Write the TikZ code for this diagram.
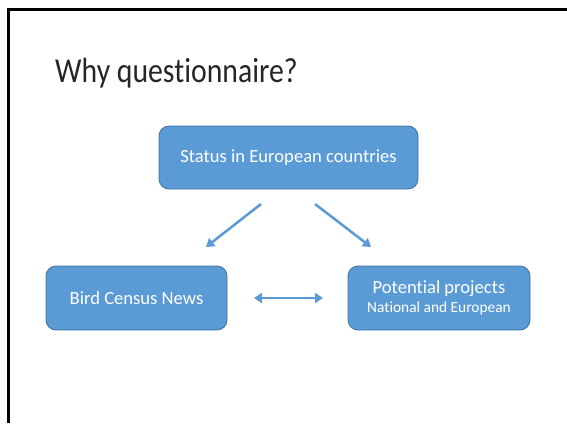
\documentclass[tikz,border=0pt]{standalone}
\usepackage{fontspec}
\setmainfont{Carlito}[Ligatures=NoCommon]
\newfontfamily\titlefont[FakeStretch=0.85,Ligatures=NoCommon]{Carlito}
\usetikzlibrary{arrows.meta}
\definecolor{boxblue}{HTML}{5B9BD5}
\definecolor{boxborder}{HTML}{41719C}
\tikzset{
  box/.style={draw=boxborder, fill=boxblue, rounded corners=10pt, text=white, line width=0.8pt, align=center, inner sep=0pt},
  arr/.style={draw=boxblue, line width=2.5pt, -{Triangle[width=10pt,length=8pt]}},
  darr/.style={draw=boxblue, line width=2.5pt, {Triangle[width=10pt,length=8pt]}-{Triangle[width=10pt,length=8pt]}},
}
\begin{document}
\begin{tikzpicture}[x=1pt,y=-1pt]
\useasboundingbox (0,0) rectangle (567,423);
\fill[white] (0,0) rectangle (567,423);
\draw[line width=3pt] (8.5,423) -- (8.5,9.5) -- (567,9.5);
\node[anchor=base west, inner sep=0pt, font=\titlefont\fontsize{35}{42}\selectfont, text=black!85] (title) at (55,82) {Why questionnaire?};
\node[box, minimum width=259pt, minimum height=63pt, font=\fontsize{18.6}{22}\selectfont] (status) at (288.5,157.5) {Status in European countries};
\node[box, minimum width=181pt, minimum height=64pt, font=\fontsize{18.6}{22}\selectfont] (bcn) at (136.5,298) {Bird Census News};
\node[box, minimum width=182pt, minimum height=64pt, font=\fontsize{18.6}{19}\selectfont] (pp) at (439,298) {Potential projects\\{\fontsize{15.4}{19}\selectfont National and European}};
\coordinate (l1) at (261,204);
\coordinate (l2) at (206,247);
\coordinate (r1) at (315,204);
\coordinate (r2) at (371,247);
\coordinate (d1) at (254,298);
\coordinate (d2) at (323,298);
\draw[arr] (l1) -- (l2);
\draw[arr] (r1) -- (r2);
\draw[darr] (d1) -- (d2);
\end{tikzpicture}
\end{document}
